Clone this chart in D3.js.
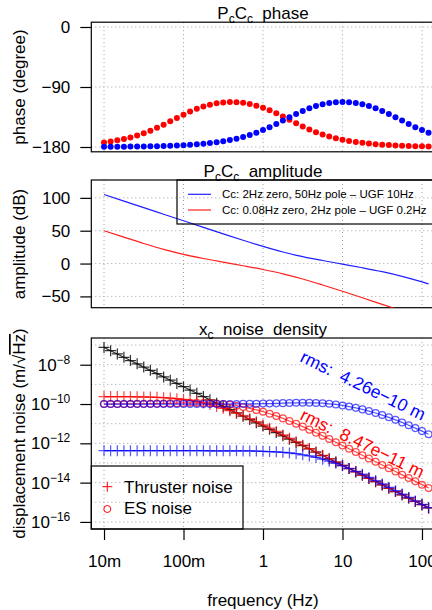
<!DOCTYPE html>
<html>
<head>
<meta charset="utf-8">
<script src="https://cdn.jsdelivr.net/npm/d3@7"></script>
<style>
body { margin: 0; background: #fff; }
svg { display: block; }
text { font-family: "Liberation Sans", Arial, sans-serif; fill: #000; }
</style>
</head>
<body>
<svg width="432" height="610"></svg>
<script>
// frequencies (Hz), 12 points per decade
var freq = [0.01, 0.0121, 0.0147, 0.0178, 0.0215, 0.0261, 0.0316, 0.0383, 0.0464, 0.0562, 0.0681, 0.0825,
  0.1, 0.121, 0.147, 0.178, 0.215, 0.261, 0.316, 0.383, 0.464, 0.562, 0.681, 0.825,
  1, 1.21, 1.47, 1.78, 2.15, 2.61, 3.16, 3.83, 4.64, 5.62, 6.81, 8.25,
  10, 12.1, 14.7, 17.8, 21.5, 26.1, 31.6, 38.3, 46.4, 56.2, 68.1, 82.5,
  100, 121];

// PcCc phase (degree)
var phaseBlue = [-179.7, -179.7, -179.6, -179.5, -179.4, -179.3, -179.1, -179.0, -178.7, -178.5, -178.1, -177.7,
  -177.3, -176.7, -176.0, -175.1, -174.1, -172.9, -171.4, -169.6, -167.5, -164.9, -162.0, -158.5,
  -154.6, -150.2, -145.4, -140.4, -135.3, -130.5, -125.9, -122.0, -118.6, -116.0, -114.1, -113.0,
  -112.6, -113.0, -114.1, -116.0, -118.6, -122.0, -125.9, -130.5, -135.3, -140.4, -145.4, -150.2,
  -154.6, -158.5];
var phaseRed = [-173.2, -171.7, -170.0, -168.0, -165.6, -162.7, -159.3, -155.5, -151.2, -146.5, -141.5, -136.5,
  -131.5, -126.9, -122.8, -119.3, -116.5, -114.5, -113.2, -112.6, -112.9, -113.8, -115.5, -118.0,
  -121.1, -125.0, -129.4, -134.2, -139.3, -144.3, -149.1, -153.6, -157.7, -161.3, -164.3, -166.9,
  -169.2, -171.0, -172.6, -173.8, -174.9, -175.8, -176.5, -177.1, -177.6, -178.0, -178.4, -178.7,
  -178.9, -179.1];

// PcCc amplitude (dB), quarter decade steps
var ampFreq = [0.01, 0.0178, 0.0316, 0.0562, 0.1, 0.178, 0.316, 0.562, 1, 1.78, 3.16, 5.62, 10, 17.8, 31.6, 56.2, 100, 121];
var ampBlue = [105.1, 95.1, 85.1, 75.1, 65.1, 55.1, 45.2, 35.4, 26.1, 17.6, 10.5, 4.6, -0.9, -6.4, -12.4, -19.5, -27.9, -30.9];
var ampRed = [50.0, 40.2, 30.6, 21.7, 14.1, 7.7, 2.1, -3.3, -9.0, -15.6, -23.5, -32.6, -42.2, -52.1, -62.1, -72.1, -82.1, -85.4];

// xc noise density (m/sqrt(Hz))
var thrOpen = [7.59e-8, 5.17e-8, 3.52e-8, 2.40e-8, 1.63e-8, 1.11e-8,
  7.59e-9, 5.17e-9, 3.52e-9, 2.40e-9, 1.63e-9, 1.11e-9,
  7.59e-10, 5.17e-10, 3.52e-10, 2.40e-10, 1.63e-10, 1.11e-10,
  7.59e-11, 5.17e-11, 3.52e-11, 2.40e-11, 1.63e-11, 1.11e-11,
  7.59e-12, 5.17e-12, 3.52e-12, 2.40e-12, 1.63e-12, 1.11e-12,
  7.59e-13, 5.17e-13, 3.52e-13, 2.40e-13, 1.63e-13, 1.11e-13,
  7.59e-14, 5.17e-14, 3.52e-14, 2.40e-14, 1.63e-14, 1.11e-14,
  7.59e-15, 5.17e-15, 3.52e-15, 2.40e-15, 1.63e-15, 1.11e-15,
  7.59e-16, 5.17e-16];
var thrRed = [2.40e-10, 2.39e-10, 2.38e-10, 2.37e-10, 2.36e-10, 2.33e-10,
  2.30e-10, 2.26e-10, 2.20e-10, 2.11e-10, 2.00e-10, 1.87e-10,
  1.71e-10, 1.53e-10, 1.33e-10, 1.13e-10, 9.40e-11, 7.59e-11,
  5.97e-11, 4.58e-11, 3.44e-11, 2.51e-11, 1.79e-11, 1.26e-11,
  8.71e-12, 5.93e-12, 4.01e-12, 2.69e-12, 1.80e-12, 1.20e-12,
  8.04e-13, 5.40e-13, 3.63e-13, 2.45e-13, 1.66e-13, 1.12e-13,
  7.64e-14, 5.20e-14, 3.53e-14, 2.40e-14, 1.64e-14, 1.11e-14,
  7.59e-15, 5.16e-15, 3.52e-15, 2.40e-15, 1.63e-15, 1.11e-15,
  7.59e-16, 5.16e-16];
var thrBlue = [4.21e-13, 4.21e-13, 4.21e-13, 4.21e-13, 4.21e-13, 4.21e-13,
  4.21e-13, 4.21e-13, 4.21e-13, 4.21e-13, 4.21e-13, 4.21e-13,
  4.20e-13, 4.20e-13, 4.20e-13, 4.19e-13, 4.18e-13, 4.18e-13,
  4.18e-13, 4.17e-13, 4.15e-13, 4.12e-13, 4.08e-13, 4.03e-13,
  3.94e-13, 3.83e-13, 3.69e-13, 3.49e-13, 3.24e-13, 2.95e-13,
  2.62e-13, 2.27e-13, 1.91e-13, 1.56e-13, 1.24e-13, 9.55e-14,
  7.18e-14, 5.26e-14, 3.78e-14, 2.67e-14, 1.85e-14, 1.27e-14,
  8.61e-15, 5.81e-15, 3.89e-15, 2.61e-15, 1.75e-15, 1.17e-15,
  7.87e-16, 5.31e-16];
var esRed = [1.00e-10, 1.00e-10, 1.01e-10, 1.01e-10, 1.01e-10, 1.02e-10,
  1.03e-10, 1.04e-10, 1.05e-10, 1.07e-10, 1.09e-10, 1.11e-10,
  1.13e-10, 1.15e-10, 1.15e-10, 1.14e-10, 1.11e-10, 1.07e-10,
  1.00e-10, 9.16e-11, 8.18e-11, 7.13e-11, 6.05e-11, 5.01e-11,
  4.06e-11, 3.20e-11, 2.47e-11, 1.86e-11, 1.37e-11, 9.91e-12,
  7.06e-12, 4.97e-12, 3.47e-12, 2.40e-12, 1.66e-12, 1.14e-12,
  7.78e-13, 5.32e-13, 3.64e-13, 2.48e-13, 1.69e-13, 1.15e-13,
  7.87e-14, 5.36e-14, 3.66e-14, 2.49e-14, 1.70e-14, 1.16e-14,
  7.87e-15, 5.37e-15];
var esBlue = [1.00e-10, 1.00e-10, 1.00e-10, 1.00e-10, 1.00e-10, 1.00e-10,
  1.00e-10, 1.00e-10, 1.00e-10, 1.00e-10, 1.00e-10, 1.00e-10,
  1.00e-10, 1.00e-10, 1.00e-10, 1.00e-10, 1.00e-10, 1.00e-10,
  1.00e-10, 1.01e-10, 1.01e-10, 1.02e-10, 1.02e-10, 1.03e-10,
  1.05e-10, 1.06e-10, 1.08e-10, 1.11e-10, 1.13e-10, 1.15e-10,
  1.16e-10, 1.16e-10, 1.14e-10, 1.10e-10, 1.03e-10, 9.48e-11,
  8.51e-11, 7.46e-11, 6.38e-11, 5.33e-11, 4.37e-11, 3.50e-11,
  2.74e-11, 2.10e-11, 1.57e-11, 1.16e-11, 8.35e-12, 5.94e-12,
  4.18e-12, 2.91e-12];

// ticks and labels
var xTicks = [0.01, 0.1, 1, 10, 100];
var xTickLabels = ["10m", "100m", "1", "10", "100"];
var phaseTicks = [0, -90, -180];
var ampTicks = [100, 50, 0, -50];
var noiseTicks = [1e-8, 1e-10, 1e-12, 1e-14, 1e-16];
var noiseGrid = [1e-16, 1e-15, 1e-14, 1e-13, 1e-12, 1e-11, 1e-10, 1e-9, 1e-8, 1e-7];
var ampLegend = ["Cc: 2Hz zero, 50Hz pole \u2013 UGF 10Hz", "Cc: 0.08Hz zero, 2Hz pole \u2013 UGF 0.2Hz"];
var noiseLegend = ["Thruster noise", "ES noise"];
var rmsLabels = ["rms:\u00a0 4.26e\u221210 m", "rms:\u00a0 8.47e\u221211 m"];

var svg = d3.select("svg");
var font = 17;
var left = 91.3, right = 434.7;

// shared frequency scale (log)
var x = d3.scaleLog().domain([Math.pow(10, -2.16), Math.pow(10, 2.16)]).range([left, right]);

// y scales for the three panels
var yPh = d3.scaleLinear().domain([-187.2, 7.2]).range([151.8, 22.2]);
var yAmp = d3.scaleLinear().domain([-67.2, 127.2]).range([307.7, 180]);
var yN = d3.scaleLog().domain([Math.pow(10, -16.36), Math.pow(10, -6.64)]).range([529, 338]);

// draw grid, box, clip and left axis of one panel
function panel(id, y, gridY) {
  var top = y.range()[1], bottom = y.range()[0];
  svg.append("clipPath").attr("id", id)
    .append("rect").attr("x", left).attr("y", top).attr("width", right - left).attr("height", bottom - top);
  var g = svg.append("g");
  g.selectAll(".vg").data(xTicks).enter().append("line")
    .attr("x1", function(d) { return x(d); }).attr("x2", function(d) { return x(d); })
    .attr("y1", top).attr("y2", bottom)
    .attr("stroke", "#a0a0a0").attr("stroke-dasharray", "1,3");
  g.selectAll(".hg").data(gridY).enter().append("line")
    .attr("x1", left).attr("x2", right)
    .attr("y1", function(d) { return y(d); }).attr("y2", function(d) { return y(d); })
    .attr("stroke", "#a0a0a0").attr("stroke-dasharray", "1,3");
  svg.append("rect").attr("x", left).attr("y", top).attr("width", right - left).attr("height", bottom - top)
    .attr("fill", "none").attr("stroke", "#000").attr("stroke-width", 1.2);
  return svg.append("g").attr("clip-path", "url(#" + id + ")");
}

function leftAxis(y, ticks, fmt) {
  var ax = svg.append("g").attr("transform", "translate(" + left + ",0)")
    .call(d3.axisLeft(y).tickValues(ticks).tickSize(11).tickPadding(10).tickFormat(fmt));
  ax.select(".domain").remove();
  ax.selectAll("line").attr("stroke-width", 1.2);
  ax.selectAll("text").attr("font-size", font).attr("font-family", "Liberation Sans, Arial, sans-serif");
  return ax;
}

function title(parts, yb) {
  var t = svg.append("text").attr("x", (left + right) / 2).attr("y", yb)
    .attr("text-anchor", "middle").attr("font-size", font);
  parts.forEach(function(p) {
    if (p.sub) t.append("tspan").attr("font-size", 12).attr("dy", 4).text(p.s);
    else t.append("tspan").attr("dy", p.back ? -4 : 0).text(p.s);
  });
}

function yTitle(txt, cy) {
  return svg.append("text").attr("transform", "translate(25," + cy + ") rotate(-90)")
    .attr("text-anchor", "middle").attr("font-size", font).text(txt);
}

// ---- phase panel
var gPh = panel("clipPh", yPh, phaseTicks);
leftAxis(yPh, phaseTicks, function(d) { return d < 0 ? "\u2212" + (-d) : d; });
title([{s: "P"}, {s: "c", sub: true}, {s: "C", back: true}, {s: "c", sub: true}, {s: "\u00a0 phase", back: true}], 19);
yTitle("phase (degree)", 87);

gPh.selectAll(".pr").data(phaseRed).enter().append("circle")
  .attr("cx", function(d, i) { return x(freq[i]); }).attr("cy", function(d) { return yPh(d); })
  .attr("r", 3).attr("fill", "red");
gPh.selectAll(".pb").data(phaseBlue).enter().append("circle")
  .attr("cx", function(d, i) { return x(freq[i]); }).attr("cy", function(d) { return yPh(d); })
  .attr("r", 3).attr("fill", "blue");

// ---- amplitude panel
var gAmp = panel("clipAmp", yAmp, ampTicks);
leftAxis(yAmp, ampTicks, function(d) { return d < 0 ? "\u2212" + (-d) : d; });
title([{s: "P"}, {s: "c", sub: true}, {s: "C", back: true}, {s: "c", sub: true}, {s: "\u00a0 amplitude", back: true}], 176.7);
yTitle("amplitude (dB)", 244);

var ampLine = d3.line().curve(d3.curveMonotoneX)
  .x(function(d, i) { return x(ampFreq[i]); })
  .y(function(d) { return yAmp(d); });
gAmp.append("path").datum(ampBlue).attr("d", ampLine).attr("fill", "none").attr("stroke", "#2020ff").attr("stroke-width", 1.2);
gAmp.append("path").datum(ampRed).attr("d", ampLine).attr("fill", "none").attr("stroke", "#ff2020").attr("stroke-width", 1.2);

// legend, transparent box
svg.append("rect").attr("x", 177).attr("y", 180).attr("width", right - 177).attr("height", 44)
  .attr("fill", "none").attr("stroke", "#000").attr("stroke-width", 1.2);
[["#2020ff", 194.3], ["#ff2020", 210]].forEach(function(c, i) {
  svg.append("line").attr("x1", 188).attr("x2", 211).attr("y1", c[1]).attr("y2", c[1])
    .attr("stroke", c[0]).attr("stroke-width", 1.2);
  svg.append("text").attr("x", 222).attr("y", c[1] + 4).attr("font-size", 11.5).text(ampLegend[i]);
});

// ---- noise panel
var gN = panel("clipN", yN, noiseGrid);
var nAx = leftAxis(yN, noiseTicks, function() { return ""; });
nAx.selectAll("text").each(function(d) {
  var t = d3.select(this);
  t.append("tspan").text("10");
  t.append("tspan").attr("dy", -7).attr("font-size", 12).text("\u2212" + Math.round(-Math.log10(d)));
});
title([{s: "x"}, {s: "c", sub: true}, {s: "\u00a0 noise\u00a0 density", back: true}], 335);

var yt = yTitle("", 433.5);
yt.append("tspan").text("displacement noise (m/\u221a");
yt.append("tspan").style("text-decoration", "overline").text("Hz");
yt.append("tspan").text(")");

// bottom axis
var bx = svg.append("g").attr("transform", "translate(0,529)")
  .call(d3.axisBottom(x).tickValues(xTicks).tickSize(11).tickPadding(15)
    .tickFormat(function(d, i) { return xTickLabels[i]; }));
bx.select(".domain").remove();
bx.selectAll("line").attr("stroke-width", 1.2);
bx.selectAll("text").attr("font-size", font).attr("font-family", "Liberation Sans, Arial, sans-serif");
svg.append("text").attr("x", (left + right) / 2).attr("y", 606).attr("text-anchor", "middle")
  .attr("font-size", font).text("frequency (Hz)");

var noiseLine = d3.line()
  .x(function(d, i) { return x(freq[i]); })
  .y(function(d) { return yN(d); });

// series drawn as points and lines
function plusSeries(vals, col, op) {
  var g = gN.append("g").attr("stroke", col).attr("stroke-opacity", op).attr("stroke-width", 1.25).attr("fill", "none");
  g.append("path").datum(vals).attr("d", noiseLine);
  g.selectAll("path.m").data(vals).enter().append("path").attr("class", "m")
    .attr("d", function(d, i) { var cx = x(freq[i]), cy = yN(d); return "M" + (cx - 5.5) + "," + cy + "H" + (cx + 5.5) + "M" + cx + "," + (cy - 5.5) + "V" + (cy + 5.5); });
}
function circleSeries(vals, col, op) {
  var g = gN.append("g").attr("stroke", col).attr("stroke-opacity", op).attr("stroke-width", 1.25).attr("fill", "none");
  g.append("path").datum(vals).attr("d", noiseLine);
  g.selectAll("circle").data(vals).enter().append("circle")
    .attr("cx", function(d, i) { return x(freq[i]); }).attr("cy", function(d) { return yN(d); }).attr("r", 3.4);
}
plusSeries(thrOpen, "#000", 0.8);
plusSeries(thrRed, "red", 0.7);
plusSeries(thrBlue, "blue", 0.65);
circleSeries(esRed, "red", 0.7);
circleSeries(esBlue, "blue", 0.65);

// rms labels
svg.append("text").attr("transform", "translate(299,361) rotate(26)")
  .attr("font-size", 17.5).style("fill", "blue").text(rmsLabels[0]);
svg.append("text").attr("transform", "translate(299,419) rotate(26)")
  .attr("font-size", 17.5).style("fill", "red").text(rmsLabels[1]);

// noise legend
svg.append("rect").attr("x", left).attr("y", 466).attr("width", 243 - left).attr("height", 63)
  .attr("fill", "none").attr("stroke", "#000").attr("stroke-width", 1.2);
svg.append("path").attr("d", "M102.3,486.7H112.3M107.3,481.7V491.7").attr("stroke", "red").attr("fill", "none");
svg.append("circle").attr("cx", 107.3).attr("cy", 509).attr("r", 3.5).attr("stroke", "red").attr("fill", "none");
svg.append("text").attr("x", 124).attr("y", 493.3).attr("font-size", font).text(noiseLegend[0]);
svg.append("text").attr("x", 124).attr("y", 514.3).attr("font-size", font).text(noiseLegend[1]);
</script>
</body>
</html>
